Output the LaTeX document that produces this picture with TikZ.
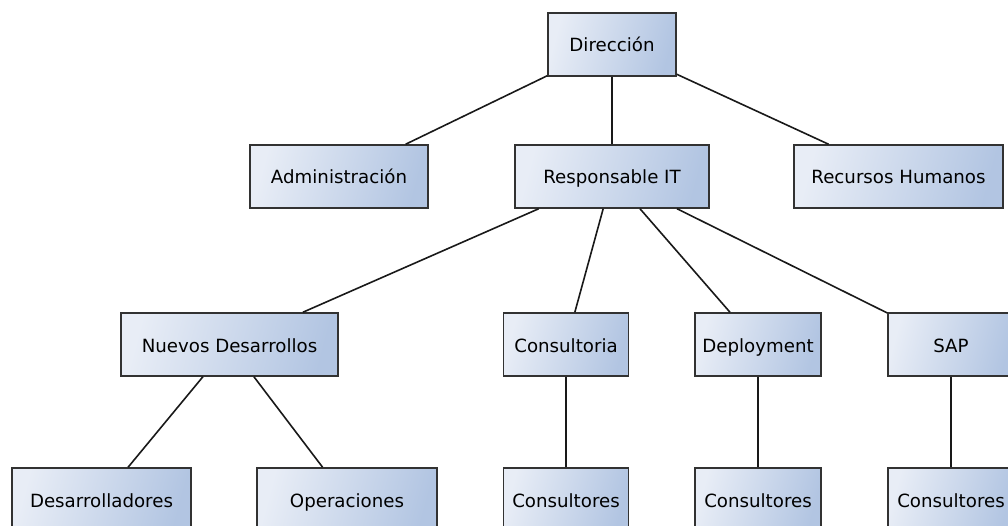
\documentclass[tikz,border=0pt]{standalone}
\usepackage{fontspec}
\setmainfont{DejaVu Sans}
\definecolor{boxlight}{RGB}{232,237,246}
\definecolor{boxdark}{RGB}{178,197,226}
\definecolor{boxedge}{RGB}{50,50,50}
\tikzset{
  unit/.style={draw=boxedge, line width=1.5pt, inner sep=0pt,
    left color=boxlight, right color=boxdark, shading angle=75,
    minimum height=63pt, text height=16pt, text depth=1pt,
    font=\fontsize{18.2}{21}\selectfont},
  link/.style={line width=1.6pt, black!90}
}
\begin{document}
\begin{tikzpicture}[x=1pt, y=-1pt]
\useasboundingbox (0,0) rectangle (1008,526);
% top level
\node[unit, minimum width=128pt] (dir) at (612,44.5) {Dirección};
% second level
\node[unit, minimum width=178pt] (adm) at (339,176.5) {Administración};
\node[unit, minimum width=194pt] (rit) at (612,176.5) {Responsable IT};
\node[unit, minimum width=209pt] (rrhh) at (898.5,176.5) {Recursos Humanos};
% third level
\node[unit, minimum width=217pt] (nd) at (229.5,344.5) {Nuevos Desarrollos};
\node[unit, minimum width=125pt] (cons) at (566,344.5) {Consultoria};
\node[unit, minimum width=126pt] (dep) at (758,344.5) {Deployment};
\node[unit, minimum width=126pt] (sap) at (951,344.5) {SAP};
% bottom level
\node[unit, minimum width=179pt] (des) at (101.5,499.5) {Desarrolladores};
\node[unit, minimum width=180pt] (ope) at (347,499.5) {Operaciones};
\node[unit, minimum width=125pt] (c1) at (566,499.5) {Consultores};
\node[unit, minimum width=126pt] (c2) at (758,499.5) {Consultores};
\node[unit, minimum width=126pt] (c3) at (951,499.5) {Consultores};
% connectors
\draw[link] (dir) -- (adm);
\draw[link] (dir) -- (rit);
\draw[link] (dir) -- (rrhh);
\draw[link] (rit) -- (nd);
\draw[link] (rit) -- (cons);
\draw[link] (rit) -- (dep);
\draw[link] (rit) -- (sap);
\draw[link] (nd) -- (des);
\draw[link] (nd) -- (ope);
\draw[link] (cons) -- (c1);
\draw[link] (dep) -- (c2);
\draw[link] (sap) -- (c3);
\end{tikzpicture}
\end{document}
